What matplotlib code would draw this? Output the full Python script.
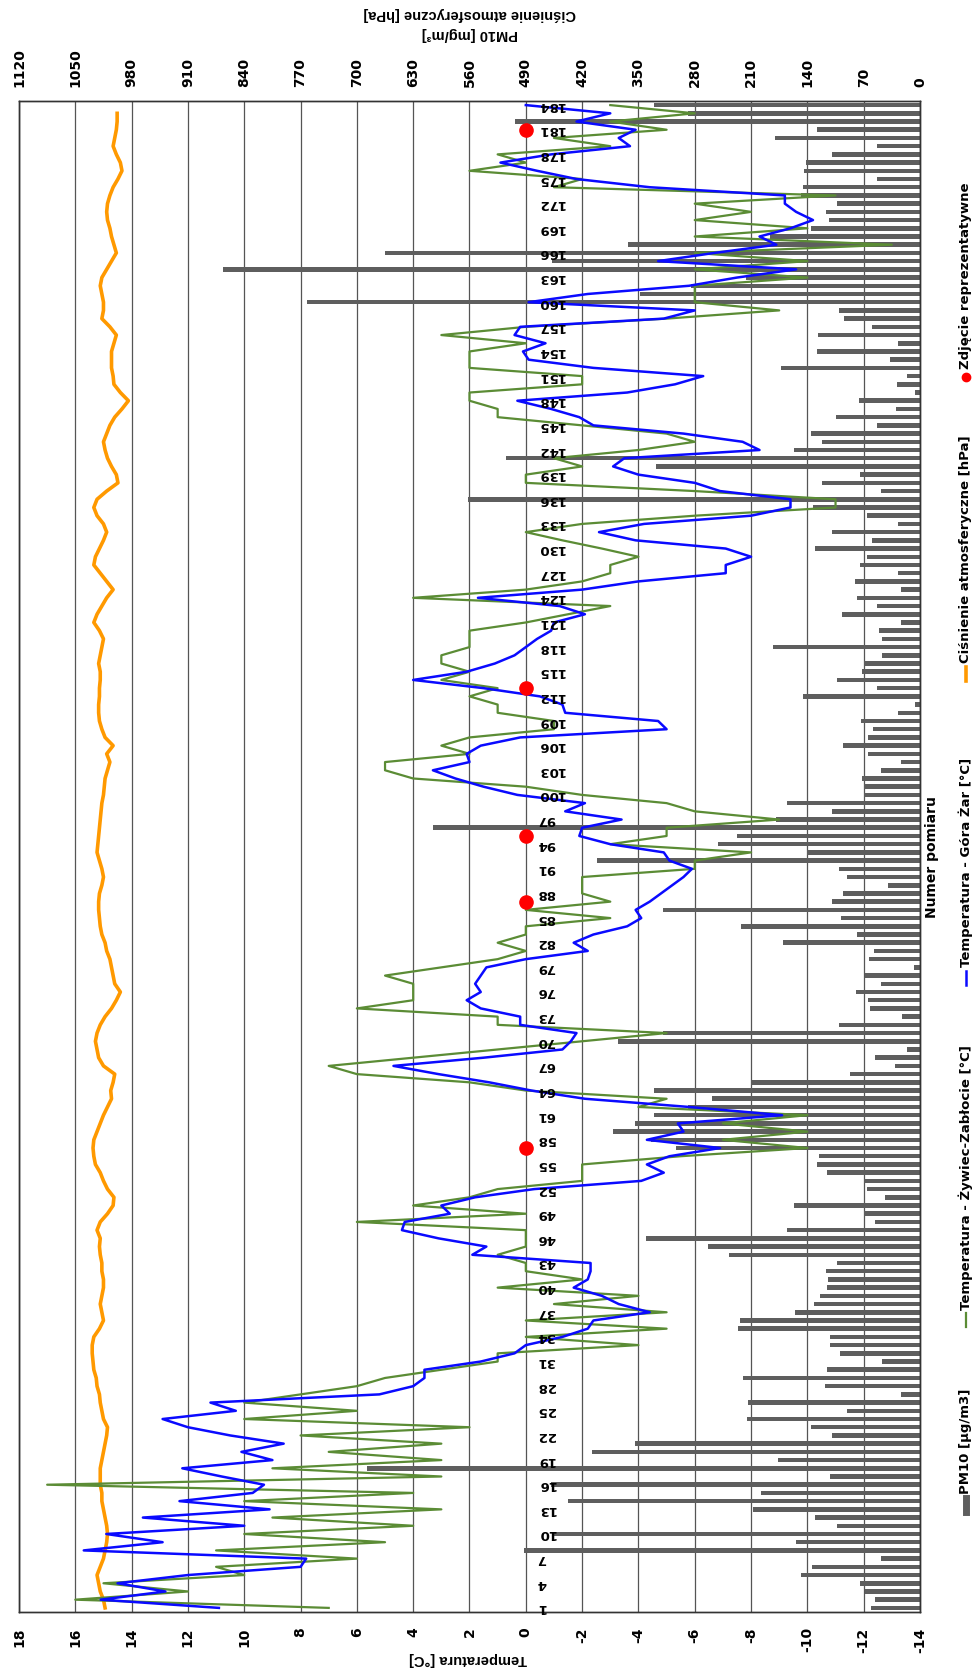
import numpy as np
import matplotlib
matplotlib.use('Agg')
import matplotlib.pyplot as plt
from matplotlib.lines import Line2D
import matplotlib.transforms as mtransforms

# ---------------- data ----------------
measurement = list(range(1, 185))

pm10 = [61, 56, 68, 75, 148, 134, 49, 492, 154, 455,
        103, 131, 207, 437, 198, 459, 112, 687, 176, 408,
        354, 110, 135, 215, 91, 214, 23, 118, 220, 115,
        47, 100, 112, 112, 226, 224, 155, 132, 124, 115,
        114, 117, 103, 238, 264, 341, 165, 56, 70, 157,
        44, 66, 70, 115, 128, 126, 303, 334, 381, 354,
        331, 289, 258, 331, 210, 87, 31, 56, 16, 375,
        319, 101, 22, 62, 65, 80, 49, 68, 8, 64,
        57, 170, 78, 223, 98, 319, 110, 96, 40, 91,
        101, 402, 140, 251, 227, 605, 179, 109, 165, 70,
        70, 72, 49, 23, 65, 96, 65, 58, 73, 27,
        6, 146, 54, 103, 72, 70, 47, 183, 47, 51,
        23, 97, 53, 78, 23, 81, 27, 74, 66, 131,
        60, 109, 27, 66, 133, 562, 48, 122, 74, 328,
        515, 157, 122, 135, 54, 105, 30, 76, 6, 28,
        16, 173, 37, 128, 27, 127, 60, 95, 101, 762,
        348, 285, 216, 866, 457, 665, 363, 187, 135, 113,
        117, 103, 148, 146, 53, 144, 142, 110, 53, 180,
        128, 503, 288, 331]

temp_zywiec = [7, 16, 12, 15, 10, 11, 6, 11, 5, 10,
               4, 9, 3, 10, 4, 17, 3, 9, 3, 7,
               3, 8, 2, 10, 6, 10, 8, 6, 5, 3,
               1, 1, -4, 0, -5, 0, -5, -1, -4, 1,
               -2, 0, 0, 1, 0, 0, 0, 6, 0, 4,
               2, 1, -2, -2, -2, -5.5, -10, -7, -10, -7,
               -10, -4, -5, 0, 2, 6, 7, 4, 1, -2,
               -5, 1, 1, 6, 4, 4, 4, 5, 3, 1,
               0, 1, 0, 0, -3, 0, -3, -2, -2, -2,
               -6, -6, -8, -3, -5, -5, -9, -6, -5, -2,
               0, 4, 5, 5, 2, 3, 2, -1, -1, 1,
               1, 2, 1, 3, 2, 3, 3, 2, 2, 2,
               0, -1.5, -3, 4, 0, -2, -3, -3, -4, -2.7,
               -1.3, 0, -2, -6, -11, -11, -6, 0, 0, -2,
               -1, -4, -6, -5, -2, 1, 1, 2, 2, -2,
               -2, 2, 2, 2, 0, 3, 0, -5, -9, -6,
               -6, -6, -10, -6, -10, -6, -13, -6, -10, -6,
               -8, -6, -11, -1, -2, 2, 0, 1, -3, -1,
               -5, -3, -6, -3]

temp_zar = [10.9, 15.1, 12.8, 14.5, 12.0, 8.0, 7.8, 15.7, 12.9, 14.9,
            10.0, 13.6, 9.1, 12.3, 9.7, 9.3, 10.8, 12.2, 9.0, 10.1,
            8.6, 10.5, 12.0, 12.9, 10.3, 11.2, 5.2, 4.0, 3.6, 3.6,
            1.6, 0.4, 0.0, -1.3, -2.2, -2.4, -4.4, -3.3, -2.7, -1.7,
            -2.2, -2.3, -2.3, 1.9, 1.4, 3.1, 4.4, 4.3, 2.7, 3.0,
            1.8, -0.3, -4.1, -4.9, -4.3, -5.1, -6.9, -4.3, -5.6, -5.4,
            -9.1, -5.8, -2.1, -0.2, 1.3, 3.1, 4.7, 1.5, -1.3, -1.6,
            -1.8, 0.2, 0.2, 1.6, 2.1, 1.6, 1.8, 1.6, 1.4, 0.0,
            -2.2, -1.7, -2.4, -3.6, -4.1, -3.9, -4.4, -4.8, -5.2, -5.6,
            -5.9, -5.1, -4.9, -3.0, -1.9, -2.0, -3.4, -1.4, -2.1, 0.3,
            1.5, 2.5, 3.3, 2.0, 2.1, 1.6, 0.2, -5.0, -4.7, -1.4,
            -1.3, -0.5, 1.5, 4.0, 2.1, 1.1, 0.4, 0.0, -0.4, -0.9,
            -1.0, -2.1, -1.2, 1.7, -2.0, -4.0, -7.1, -7.1, -8.0, -7.1,
            -3.9, -2.6, -4.2, -8.0, -9.4, -9.4, -6.9, -6.0, -4.0, -3.1,
            -3.5, -8.3, -7.7, -5.6, -2.4, -1.9, -0.9, 0.3, -3.6, -5.3,
            -6.3, -2.4, -0.1, 0.1, -0.7, 0.4, 0.2, -4.9, -6.0, -0.1,
            -2.2, -5.8, -7.5, -9.6, -4.7, -6.7, -8.9, -8.3, -9.4, -10.2,
            -9.6, -9.2, -9.2, -4.4, -1.8, -0.4, 0.9, -0.9, -3.7, -3.3,
            -3.9, -1.8, -3.0, 0.0]

pressure = [1013, 1015, 1019, 1021, 1023, 1019, 1015, 1013, 1011, 1010,
            1011, 1013, 1015, 1017, 1017, 1019, 1019, 1019, 1017, 1015,
            1013, 1011, 1010, 1015, 1017, 1019, 1020, 1023, 1024, 1027,
            1028, 1029, 1029, 1027, 1020, 1015, 1017, 1019, 1017, 1015,
            1015, 1017, 1017, 1019, 1020, 1019, 1023, 1019, 1010, 1003,
            1002, 1010, 1015, 1019, 1025, 1027, 1028, 1027, 1023, 1019,
            1015, 1010, 1005, 1006, 1003, 1001, 1015, 1021, 1023, 1025,
            1023, 1019, 1013, 1005, 999, 994, 1001, 1003, 1005, 1007,
            1011, 1013, 1017, 1019, 1020, 1021, 1021, 1020, 1017, 1015,
            1017, 1020, 1023, 1022, 1021, 1020, 1019, 1018, 1017, 1015,
            1014, 1013, 1010, 1007, 1011, 1003, 1013, 1017, 1020, 1021,
            1021, 1020, 1020, 1019, 1019, 1021, 1019, 1017, 1015, 1020,
            1027, 1023, 1017, 1011, 1003, 1011, 1019, 1027, 1025, 1020,
            1015, 1011, 1015, 1023, 1027, 1023, 1011, 997, 999, 1005,
            1010, 1013, 1015, 1011, 1007, 1001, 992, 984, 994, 1002,
            1003, 1005, 1005, 1005, 1002, 999, 1007, 1017, 1015, 1015,
            1017, 1019, 1017, 1011, 1005, 999, 1002, 1005, 1007, 1010,
            1011, 1010, 1007, 1003, 997, 992, 994, 999, 1003, 1001,
            999, 998, 998, np.nan]

photo_idx = [57, 87, 95, 113, 181]
photo_val = [0, 0, 0, 0, 0]

temp_ticks = list(range(-14, 19, 2))
right_ticks = list(range(0, 1121, 70))
category_ticks = list(range(1, 185, 3))

# ---------------- layout ----------------
W, H = 979, 1671
fig = plt.figure(figsize=(W / 100, H / 100), dpi=100)
L, R, T, B = 19, 920, 101, 1612


def fx(x):
    return x / W


def fy(y):
    return 1 - y / H


ax = fig.add_axes([fx(L), fy(B), (R - L) / W, (B - T) / H])
axT = ax.twiny()

# PM10 / pressure axis (top)
ax.set_xlim(1120, 0)
ax.set_ylim(0.5, 184.5)
GRID = '#555555'
ax.set_xticks(right_ticks)
ax.grid(axis='x', color=GRID, lw=0.9)
ax.set_axisbelow(True)
ax.set_yticks([])
ax.xaxis.set_ticks_position('top')
ax.xaxis.set_label_position('top')
ax.tick_params(axis='x', length=0, pad=10, labeltop=True, labelbottom=False)
ax.set_xticklabels([str(v) for v in right_ticks], rotation=90,
                   fontsize=10, fontweight='bold', family='DejaVu Sans')

ax.barh(measurement, pm10, height=0.55, left=0, color='#5e5e5e', zorder=2)
ax.plot(pressure, measurement, color='#ff9900', lw=2.6, zorder=3)

# temperature axis (bottom)
axT.set_xlim(18, -14)
axT.xaxis.set_ticks_position('bottom')
axT.xaxis.set_label_position('bottom')
axT.set_xticks(temp_ticks)
axT.set_xticklabels([str(v) for v in temp_ticks], rotation=90,
                    fontsize=10, fontweight='bold', family='DejaVu Sans')
axT.tick_params(axis='x', length=0, pad=11, labelbottom=True, labeltop=False)
axT.plot(temp_zywiec, measurement, color='#5b8c35', lw=1.6, zorder=4)
axT.plot(temp_zar, measurement, color='#0a0aff', lw=1.8, zorder=5)
axT.plot(photo_val, photo_idx, linestyle='none', marker='o', ms=9.5,
         color='#ff0000', zorder=6, clip_on=False)

for a in (ax, axT):
    for s in a.spines.values():
        s.set_color('#333333')
        s.set_linewidth(1.0)

off = mtransforms.ScaledTranslation(11 / 100, 0, fig.dpi_scale_trans)
for c in category_ticks:
    axT.text(0, c, str(c), transform=axT.transData + off, rotation=180,
             ha='left', va='center', fontsize=9.5, fontweight='bold',
             family='DejaVu Sans', zorder=7)

# axis titles
fig.text(fx(470), fy(14), 'Ciśnienie atmosferyczne [hPa]', rotation=180,
         ha='center', va='center', fontsize=10.5, fontweight='bold',
         family='Liberation Sans')
fig.text(fx(470), fy(34), 'PM10 [mg/m³]', rotation=180,
         ha='center', va='center', fontsize=10.5, fontweight='bold',
         family='Liberation Sans')
fig.text(fx(468), fy(1659), 'Temperatura [°C]', rotation=180,
         ha='center', va='center', fontsize=10.5, fontweight='bold',
         family='Liberation Sans')
fig.text(fx(932), fy(857), 'Numer pomiaru', rotation=90,
         ha='center', va='center', fontsize=10, fontweight='bold',
         family='DejaVu Sans')

# legend (drawn manually, rotated)
LX = 966
leg_font = dict(rotation=90, ha='center', va='bottom', fontsize=9.5,
                fontweight='bold', family='DejaVu Sans')
fig.add_artist(Line2D([fx(LX), fx(LX)], [fy(1512), fy(1498)],
                      color='#5e5e5e', lw=5, transform=fig.transFigure))
fig.text(fx(LX), fy(1494), 'PM10 [µg/m3]', **leg_font)
fig.add_artist(Line2D([fx(LX), fx(LX)], [fy(1327), fy(1313)],
                      color='#5b8c35', lw=1.6, transform=fig.transFigure))
fig.text(fx(LX), fy(1310), 'Temperatura - Żywiec-Zabłocie [°C]', **leg_font)
fig.add_artist(Line2D([fx(LX), fx(LX)], [fy(985), fy(971)],
                      color='#0a0aff', lw=1.8, transform=fig.transFigure))
fig.text(fx(LX), fy(967), 'Temperatura - Góra Żar [°C]', **leg_font)
fig.add_artist(Line2D([fx(LX), fx(LX)], [fy(681), fy(667)],
                      color='#ff9900', lw=2.6, transform=fig.transFigure))
fig.text(fx(LX), fy(663), 'Ciśnienie atmosferyczne [hPa]', **leg_font)
fig.add_artist(Line2D([fx(LX)], [fy(377)], marker='o', ms=6,
                      color='#ff0000', linestyle='none',
                      transform=fig.transFigure))
fig.text(fx(LX), fy(369), 'Zdjęcie reprezentatywne', **leg_font)

fig.savefig('out.png', dpi=100)
